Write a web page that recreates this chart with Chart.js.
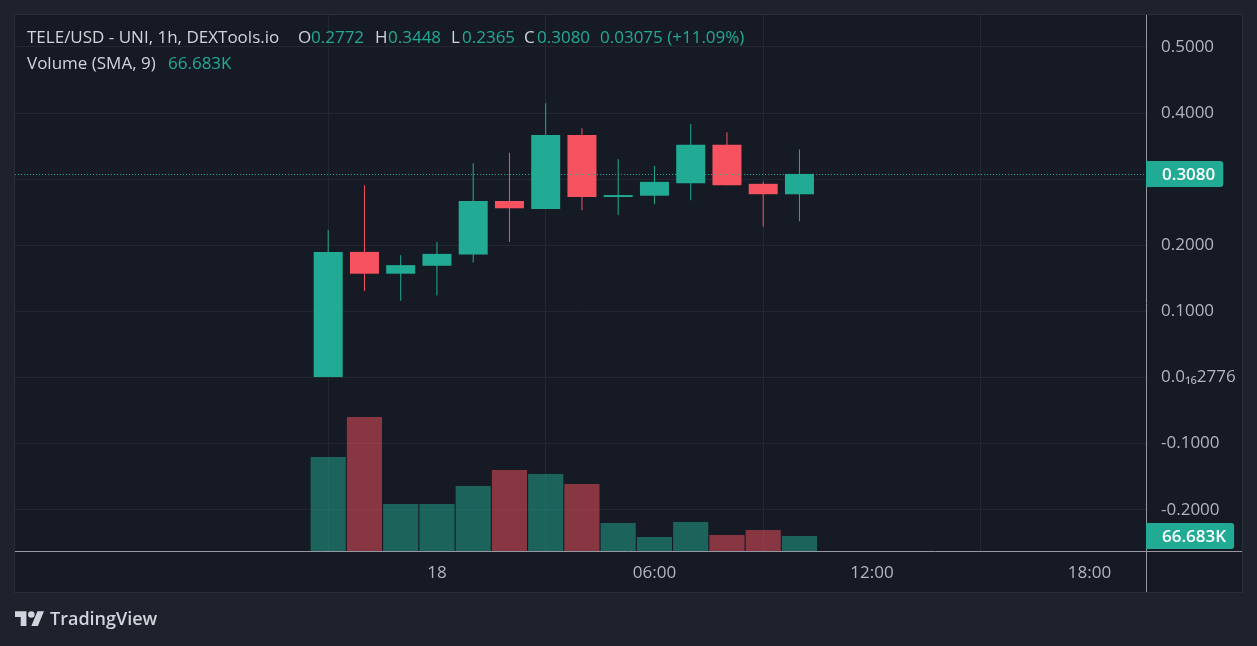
<!DOCTYPE html>
<html>
<head>
<meta charset="utf-8">
<script src="https://cdn.jsdelivr.net/npm/chart.js@4.4.1/dist/chart.umd.min.js"></script>
<style>
html,body{margin:0;padding:0;background:#1e222d;}
#wrap{position:relative;width:1257px;height:646px;overflow:hidden;background:#1e222d;font-family:'Open Sans','DejaVu Sans',sans-serif;}
canvas{position:absolute;left:0;top:0;}
.t{position:absolute;white-space:nowrap;font-size:17px;line-height:normal;color:#d1d4dc;}
.g{color:#22ab94;}
#logo{position:absolute;left:15px;top:608px;}
#brand{position:absolute;left:50px;top:606px;font-size:18px;font-weight:600;color:#d1d4dc;white-space:nowrap;line-height:normal;}
</style>
</head>
<body>
<div id="wrap">
<canvas id="c" width="1257" height="646"></canvas>
<div class="t" style="left:27px;top:25px">TELE/USD - UNI, 1h, DEXTools.io</div>
<div class="t" style="left:298px;top:25px">O</div><div class="t g" style="left:311px;top:25px">0.2772</div>
<div class="t" style="left:375px;top:25px">H</div><div class="t g" style="left:388px;top:25px">0.3448</div>
<div class="t" style="left:451px;top:25px">L</div><div class="t g" style="left:462px;top:25px">0.2365</div>
<div class="t" style="left:524px;top:25px">C</div><div class="t g" style="left:537px;top:25px">0.3080</div>
<div class="t g" style="left:600px;top:25px">0.03075 (+11.09%)</div>
<div class="t" style="left:27px;top:51px">Volume (SMA, 9)</div>
<div class="t g" style="left:168px;top:51px">66.683K</div>
<svg id="logo" width="29.4" height="22.9" viewBox="0 0 36 28"><path fill="#d1d4dc" d="M14 22H7V11H0V4h14v18zM28 22h-8l7.5-18h8L28 22z"/><circle fill="#d1d4dc" cx="20" cy="8" r="4"/></svg>
<div id="brand">TradingView</div>
</div>
<script>
// ---- data ----
const hours   = [-3, -2, -1, 0, 1, 2, 3, 4, 5, 6, 7, 8, 9, 10];   // hours relative to 18th 00:00
const opens   = [0.000, 0.190, 0.157, 0.169, 0.186, 0.267, 0.255, 0.367, 0.273, 0.275, 0.294, 0.352, 0.293, 0.2772];
const highs   = [0.223, 0.291, 0.185, 0.205, 0.324, 0.340, 0.415, 0.377, 0.330, 0.320, 0.383, 0.371, 0.296, 0.3448];
const lows    = [0.000, 0.131, 0.116, 0.124, 0.174, 0.205, 0.255, 0.253, 0.246, 0.262, 0.268, 0.291, 0.228, 0.2365];
const closes  = [0.190, 0.157, 0.170, 0.187, 0.267, 0.256, 0.367, 0.273, 0.276, 0.296, 0.352, 0.291, 0.2773, 0.3080];
const volumes = [418000, 596000, 209000, 209000, 289000, 360000, 342000, 298000, 124000, 62000, 129000, 71000, 93000, 66683];
const priceTicks  = [-0.2, -0.1, 0, 0.1, 0.2, 0.3, 0.4, 0.5];
const priceLabels = ['-0.2000', '-0.1000', '0.0\u2081\u20862776', '0.1000', '0.2000', '', '0.4000', '0.5000'];
const timeTicks  = [0, 6, 12, 18];
const timeLabels = ['18', '06:00', '12:00', '18:00'];
const lastPriceLabel = '0.3080';
const lastVolumeLabel = '66.683K';

const UP = '#22ab94', DN = '#f7525f';
const UPV = 'rgba(34,171,148,0.5)', DNV = 'rgba(247,82,95,0.5)';
const isUp = opens.map((o, i) => closes[i] >= o);
const FONT = "'Open Sans','DejaVu Sans',sans-serif";

const noPad = s => { s.paddingTop = 0; s.paddingBottom = 0; s.paddingLeft = 0; s.paddingRight = 0; };

const panel = {
  id: 'panel',
  beforeDraw(chart) {
    const {ctx, chartArea: a, scales: {x, y}} = chart;
    ctx.save();
    ctx.fillStyle = '#161a25';
    ctx.fillRect(a.left, a.top, y.right - a.left, x.bottom - a.top);
    ctx.strokeStyle = '#2a2e39';
    ctx.lineWidth = 1;
    ctx.strokeRect(a.left - 0.5, a.top - 0.5, y.right - a.left + 1, x.bottom - a.top + 1);
    ctx.restore();
  },
  afterDatasetsDraw(chart) {
    const {ctx, chartArea: a, scales: {y}} = chart;
    const py = Math.round(y.getPixelForValue(closes[closes.length - 1])) + 0.5;
    ctx.save();
    ctx.strokeStyle = UP;
    ctx.lineWidth = 1;
    ctx.setLineDash([1, 2]);
    ctx.beginPath(); ctx.moveTo(a.left, py); ctx.lineTo(a.right, py); ctx.stroke();
    ctx.restore();
  },
  afterDraw(chart) {
    const {ctx, chartArea: a, scales: {x, y, v}} = chart;
    ctx.save();
    ctx.strokeStyle = '#9598a1';
    ctx.lineWidth = 1;
    const ax = Math.round(a.right) + 0.5, by = Math.round(a.bottom) + 0.5;
    ctx.beginPath(); ctx.moveTo(ax, a.top); ctx.lineTo(ax, x.bottom); ctx.stroke();
    ctx.beginPath(); ctx.moveTo(a.left, by); ctx.lineTo(y.right, by); ctx.stroke();
    const box = (val, scale, text) => {
      ctx.font = '600 17px ' + FONT;
      const w = ctx.measureText(text).width;
      const cy = scale.getPixelForValue(val);
      const h = 26;
      const top = Math.min(cy - h / 2, a.bottom - h - 1);
      ctx.fillStyle = UP;
      ctx.beginPath();
      ctx.roundRect(ax - 0.5, top, 16 + w + 8, h, [0, 3, 3, 0]);
      ctx.fill();
      ctx.fillStyle = '#ffffff';
      ctx.textBaseline = 'middle';
      ctx.textAlign = 'left';
      ctx.fillText(text, ax + 15.5, top + h / 2 + 1);
    };
    box(closes[closes.length - 1], y, lastPriceLabel);
    box(volumes[volumes.length - 1], v, lastVolumeLabel);
    ctx.restore();
  }
};

new Chart(document.getElementById('c'), {
  type: 'bar',
  data: {
    datasets: [
      {
        label: 'wicks',
        data: hours.map((h, i) => ({x: h, y: [lows[i], highs[i]]})),
        backgroundColor: isUp.map(u => u ? UP : DN),
        borderWidth: 0, grouped: false, barPercentage: 0.05, categoryPercentage: 1,
        maxBarThickness: 1, yAxisID: 'y', order: 2
      },
      {
        label: 'bodies',
        data: hours.map((h, i) => ({x: h, y: [opens[i], closes[i]]})),
        backgroundColor: isUp.map(u => u ? UP : DN),
        borderWidth: 0, grouped: false, barPercentage: 0.8, categoryPercentage: 1,
        yAxisID: 'y', order: 1
      },
      {
        label: 'volume',
        data: hours.map((h, i) => ({x: h, y: volumes[i]})),
        backgroundColor: isUp.map(u => u ? UPV : DNV),
        borderWidth: 0, grouped: false, barPercentage: 0.97, categoryPercentage: 1,
        yAxisID: 'v', order: 3
      }
    ]
  },
  options: {
    responsive: false,
    animation: false,
    devicePixelRatio: 1,
    layout: {autoPadding: false, padding: {left: 15, top: 15, right: 15, bottom: 54}},
    plugins: {legend: {display: false}, tooltip: {enabled: false}},
    scales: {
      x: {
        type: 'linear', position: 'bottom', min: -11.64, max: 19.56, offset: false,
        afterBuildTicks: s => { s.ticks = timeTicks.map(t => ({value: t})); },
        afterFit: s => { s.height = 41; noPad(s); },
        ticks: {
          autoSkip: false, maxRotation: 0, padding: 12, color: '#b2b5be',
          font: {family: FONT, size: 17},
          callback: (val, i) => timeLabels[i]
        },
        grid: {color: '#242732', drawTicks: false},
        border: {display: false}
      },
      y: {
        type: 'linear', position: 'right', min: -0.2625, max: 0.5484,
        afterBuildTicks: s => { s.ticks = priceTicks.map(t => ({value: t})); },
        afterFit: s => { s.width = 96; noPad(s); },
        ticks: {
          padding: 15, color: '#b2b5be', font: {family: FONT, size: 17},
          callback: (val, i) => priceLabels[i]
        },
        grid: {color: '#242732', drawTicks: false},
        border: {display: false}
      },
      v: {
        type: 'linear', display: false, min: 0, max: 2383000
      }
    }
  },
  plugins: [panel]
});
</script>
</body>
</html>
